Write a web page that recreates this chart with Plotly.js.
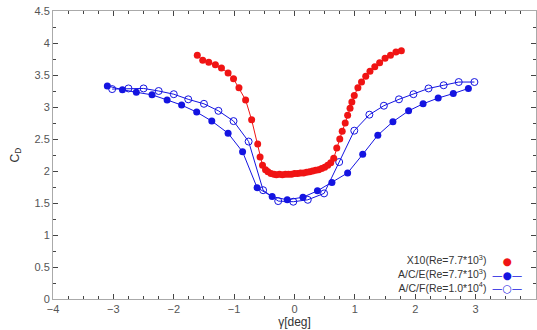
<!DOCTYPE html>
<html>
<head>
<meta charset="utf-8">
<script src="https://cdn.plot.ly/plotly-3.0.1.min.js"></script>
<style>html,body{margin:0;padding:0;background:#fff;}#chart{width:537px;height:330px;}</style>
</head>
<body>
<div id="chart"></div>
<script>
// X10 (Re=7.7*10^3)
const x10X = [-1.61,-1.52,-1.42,-1.31,-1.21,-1.10,-1.01,-0.92,-0.81,-0.71,-0.61,-0.57,-0.53,-0.48,-0.44,-0.39,-0.34,-0.30,-0.25,-0.20,-0.15,-0.10,-0.05,0.00,0.05,0.10,0.15,0.20,0.25,0.30,0.35,0.40,0.45,0.50,0.55,0.60,0.65,0.70,0.75,0.79,0.84,0.88,0.92,0.95,0.99,1.05,1.11,1.18,1.25,1.33,1.41,1.50,1.59,1.68,1.77];
const x10Y = [3.81,3.73,3.70,3.66,3.61,3.53,3.44,3.30,3.11,2.80,2.42,2.22,2.09,2.02,1.99,1.96,1.95,1.94,1.95,1.94,1.95,1.95,1.95,1.96,1.96,1.97,1.97,1.98,1.99,2.00,2.01,2.02,2.04,2.06,2.09,2.13,2.20,2.36,2.50,2.62,2.75,2.87,2.98,3.08,3.18,3.30,3.39,3.48,3.56,3.63,3.69,3.76,3.81,3.86,3.88];
// A/C/E (Re=7.7*10^3)
const aceX = [-3.10,-2.85,-2.62,-2.36,-2.11,-1.87,-1.62,-1.37,-1.10,-0.86,-0.62,-0.37,-0.12,0.14,0.38,0.62,0.88,1.13,1.38,1.63,1.89,2.13,2.38,2.63,2.88];
const aceY = [3.33,3.27,3.23,3.19,3.11,3.03,2.92,2.78,2.59,2.30,1.74,1.60,1.55,1.59,1.69,1.82,1.97,2.26,2.56,2.77,2.94,3.05,3.14,3.21,3.29];
// A/C/F (Re=1.0*10^4)
const acfX = [-3.02,-2.75,-2.50,-2.25,-2.00,-1.76,-1.50,-1.26,-1.01,-0.76,-0.52,-0.27,-0.02,0.22,0.49,0.74,0.99,1.24,1.48,1.73,1.97,2.22,2.47,2.72,2.98];
const acfY = [3.28,3.29,3.29,3.25,3.20,3.12,3.05,2.94,2.78,2.46,1.70,1.53,1.52,1.55,1.65,2.14,2.63,2.88,3.02,3.12,3.20,3.29,3.34,3.39,3.39];

const seriesNames = ['X10(Re=7.7*10<sup>3</sup>)','A/C/E(Re=7.7*10<sup>3</sup>)','A/C/F(Re=1.0*10<sup>4</sup>)'];
const xTitle = 'γ[deg]';
const yTitle = 'C<sub>D</sub>';

const RED = 'rgb(240,20,20)';
const BLUE = 'rgb(20,20,225)';
const FONT = 'Liberation Sans, Arial, sans-serif';

const traces = [
  {x: acfX, y: acfY, mode: 'lines+markers', name: seriesNames[2], showlegend: false,
   line: {color: BLUE, width: 1}, marker: {symbol: 'circle-open', size: 7, color: BLUE, line: {width: 1}}},
  {x: aceX, y: aceY, mode: 'lines+markers', name: seriesNames[1], showlegend: false,
   line: {color: BLUE, width: 1}, marker: {symbol: 'circle', size: 7, color: BLUE}},
  {x: x10X, y: x10Y, mode: 'lines+markers', name: seriesNames[0], showlegend: false,
   line: {color: RED, width: 1}, marker: {symbol: 'circle', size: 7, color: RED}}
];

const axisCommon = {
  showgrid: false, zeroline: false, showline: true, linecolor: '#aaa', linewidth: 1,
  mirror: 'ticks', ticks: 'inside', ticklen: 5, tickcolor: '#444', tickwidth: 1,
  tickfont: {family: FONT, size: 11, color: '#555'}
};

const symbols = [
  '<span style="color:' + RED + '">●</span>',
  '<span style="color:' + BLUE + '">—●—</span>',
  '<span style="color:' + BLUE + '">—○—</span>'
];
const annotations = [
  {xref: 'paper', yref: 'paper', x: 0.901, y: 0.088, xanchor: 'right', yanchor: 'middle', align: 'right',
   text: seriesNames.join('<br>'), showarrow: false, font: {family: FONT, size: 10.5, color: '#333'}},
  {xref: 'paper', yref: 'paper', x: 0.94, y: 0.084, xanchor: 'center', yanchor: 'middle', align: 'center',
   text: symbols.join('<br>'), showarrow: false, font: {family: 'DejaVu Sans', size: 10.5, color: BLUE}}
];

const layout = {
  width: 537, height: 330,
  margin: {l: 53, r: 1, t: 11, b: 31},
  paper_bgcolor: '#fff', plot_bgcolor: '#fff',
  showlegend: false,
  xaxis: Object.assign({}, axisCommon, {
    range: [-4, 4], dtick: 1, tick0: 0,
    minor: {dtick: 0.25, ticks: 'inside', ticklen: 3, tickcolor: '#444'},
    title: {text: xTitle, font: {family: FONT, size: 12, color: '#333'}, standoff: 2}
  }),
  yaxis: Object.assign({}, axisCommon, {
    range: [0, 4.5], dtick: 0.5, tick0: 0,
    minor: {dtick: 0.25, ticks: 'inside', ticklen: 3, tickcolor: '#444'},
    title: {text: yTitle, font: {family: FONT, size: 12, color: '#333'}, standoff: 12}
  }),
  annotations: annotations
};

Plotly.newPlot('chart', traces, layout, {displayModeBar: false, staticPlot: true});
</script>
</body>
</html>
